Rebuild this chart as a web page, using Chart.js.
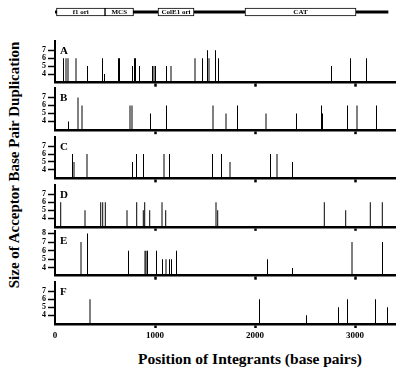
<!DOCTYPE html>
<html>
<head>
<meta charset="utf-8">
<script src="https://cdn.jsdelivr.net/npm/chart.js@4.4.0/dist/chart.umd.min.js"></script>
<style>
  html, body { margin: 0; padding: 0; background: #fff; }
  #fig { position: relative; width: 400px; height: 376px; overflow: hidden; background: #fff; font-family: "Liberation Serif", "DejaVu Serif", serif; }
  #fig canvas { position: absolute; left: 0; }
  .ytitle { position: absolute; left: -136px; top: 156px; width: 300px; height: 18px; line-height: 18px; text-align: center; font-weight: bold; font-size: 15px; transform: rotate(-90deg); white-space: nowrap; }
  .xtitle { position: absolute; left: 100px; top: 350px; width: 300px; height: 18px; line-height: 18px; text-align: center; font-weight: bold; font-size: 15.5px; white-space: nowrap; }
</style>
</head>
<body>
<div id="fig">
  <div class="ytitle">Size of Acceptor Base Pair Duplication</div>
  <div class="xtitle">Position of Integrants (base pairs)</div>
</div>
<script>
// plasmid map
const featureNames = ["f1 ori", "MCS", "ColE1 ori", "CAT"];
const featureStart = [15, 500, 1030, 1900];
const featureEnd = [500, 785, 1390, 3010];
const backbone = [0, 3330];

// integrant positions (bp) and duplication sizes (bp), one pair per panel
const panelNames = ["A", "B", "C", "D", "E", "F"];
const posA = [85, 110, 130, 210, 325, 475, 495, 635, 645, 775, 795, 805, 845, 975, 990, 1005, 1115, 1160, 1400, 1475, 1525, 1540, 1605, 1635, 2765, 2955, 3115];
const sizeA = [6, 6, 6, 6, 5, 6, 4, 6, 6, 5, 6, 6, 5, 5, 5, 5, 5, 5, 6, 6, 7, 6, 7, 6, 5, 6, 6];
const posB = [135, 230, 270, 750, 770, 955, 1115, 1580, 1710, 1825, 2110, 2415, 2665, 2675, 2925, 3020, 3215];
const sizeB = [4, 7, 6, 6, 6, 5, 6, 6, 5, 6, 5, 5, 6, 5, 6, 6, 6];
const posC = [175, 190, 320, 775, 815, 885, 1090, 1145, 1575, 1665, 1750, 2155, 2220, 2375];
const sizeC = [6, 5, 6, 5, 6, 6, 6, 6, 6, 6, 5, 6, 6, 5];
const posD = [57, 300, 457, 477, 503, 720, 817, 883, 897, 947, 1070, 1107, 1610, 1627, 2693, 2907, 3153, 3273];
const sizeD = [6, 5, 6, 6, 6, 5, 6, 5, 6, 5, 6, 5, 6, 5, 6, 5, 6, 6];
const posE = [260, 325, 735, 900, 910, 925, 1015, 1075, 1110, 1145, 1165, 1215, 2125, 2375, 2970, 3275];
const sizeE = [7, 8, 6, 6, 6, 6, 6, 5, 5, 5, 5, 6, 5, 4, 7, 7];
const posF = [350, 2045, 2515, 2835, 2925, 3205, 3325];
const sizeF = [6, 6, 4, 5, 6, 6, 5];

const xTicks = [0, 1000, 2000, 3000];
const yTicks = [4, 5, 6, 7];
const yTicksE = [4, 5, 6, 7, 8];

const X_MAX = 3400;
const PLOT_LEFT = 55;
const PLOT_RIGHT = 395;
const FONT = "Liberation Serif";

const fig = document.getElementById("fig");

function addCanvas(top, h) {
  const c = document.createElement("canvas");
  c.width = 400;
  c.height = h;
  c.style.top = top + "px";
  c.style.width = "400px";
  c.style.height = h + "px";
  fig.appendChild(c);
  return c;
}

// 图谱上的标签
const featureLabels = {
  id: "featureLabels",
  afterDatasetsDraw(chart) {
    const { ctx } = chart;
    ctx.save();
    ctx.font = "bold 7px " + FONT;
    ctx.fillStyle = "#000";
    ctx.textAlign = "center";
    ctx.textBaseline = "middle";
    chart.data.datasets.forEach((ds, i) => {
      if (!ds.label) return;
      const el = chart.getDatasetMeta(i).data[0];
      const p = el.getProps(["x", "base", "y"], true);
      ctx.fillText(ds.label, (p.x + p.base) / 2, p.y + 0.5);
    });
    ctx.restore();
  },
};

// 面板字母
const panelLetter = {
  id: "panelLetter",
  afterDraw(chart, args, opts) {
    const { ctx, chartArea } = chart;
    ctx.save();
    ctx.font = "bold 11px " + FONT;
    ctx.fillStyle = "#000";
    ctx.textBaseline = "middle";
    ctx.fillText(opts.text, chartArea.left + 5, chartArea.top + 10);
    ctx.restore();
  },
};

// map
const mapCanvas = addCanvas(0, 24);
new Chart(mapCanvas, {
  type: "bar",
  data: {
    labels: ["map"],
    datasets: [
      { data: [backbone], backgroundColor: "#000", barThickness: 2.5, grouped: false, order: 2 },
      ...featureNames.map((name, k) => ({
        label: name,
        data: [[featureStart[k], featureEnd[k]]],
        backgroundColor: "#fff",
        borderColor: "#000",
        borderWidth: 1,
        borderSkipped: false,
        barThickness: 8,
        grouped: false,
        order: 1,
      })),
    ],
  },
  options: {
    indexAxis: "y",
    responsive: false,
    animation: false,
    devicePixelRatio: 1,
    layout: { padding: { left: PLOT_LEFT, right: 400 - PLOT_RIGHT, top: 4, bottom: 4 } },
    scales: {
      x: { type: "linear", min: 0, max: X_MAX, offset: false, display: false },
      y: { display: false },
    },
    plugins: { legend: { display: false }, tooltip: { enabled: false } },
  },
  plugins: [featureLabels],
});

// panels
const panelPos = [posA, posB, posC, posD, posE, posF];
const panelSize = [sizeA, sizeB, sizeC, sizeD, sizeE, sizeF];
const baselines = [82.7, 130.2, 178.4, 226.8, 275.7, 324];
const plotHeights = [44.3, 44.3, 44.3, 44.3, 46.8, 44.3];
const yRanges = [[2.9, 8.2], [2.9, 8.2], [2.9, 8.2], [2.9, 8.2], [3.1, 8.3], [2.9, 8.2]];

panelNames.forEach((name, i) => {
  const last = i === panelNames.length - 1;
  const xh = last ? 22 : 8;
  const base = baselines[i];
  const plotTop = base - plotHeights[i];
  const top = Math.floor(plotTop) - 4;
  const h = Math.ceil(base - top) + xh;
  const padTop = plotTop - top;
  const padBottom = h - (base - top) - xh;
  const ticks = name === "E" ? yTicksE : yTicks;
  const [yMin, yMax] = yRanges[i];

  new Chart(addCanvas(top, h), {
    type: "bar",
    data: {
      datasets: [{
        data: panelPos[i].map((x, k) => ({ x, y: panelSize[i][k] })),
        backgroundColor: "#000",
        barThickness: 1,
        inflateAmount: 0,
        base: yMin,
        borderWidth: 0,
      }],
    },
    options: {
      responsive: false,
      animation: false,
      devicePixelRatio: 1,
      layout: { padding: { left: 0, right: 400 - PLOT_RIGHT, top: padTop, bottom: padBottom } },
      scales: {
        x: {
          type: "linear",
          min: 0,
          max: X_MAX,
          offset: false,
          afterBuildTicks: (s) => { s.ticks = xTicks.map((v) => ({ value: v })); },
          afterFit: (s) => { s.height = xh; },
          grid: {
            offset: false,
            drawOnChartArea: false,
            tickLength: 4,
            tickWidth: 2.5,
            tickColor: (c) => (c.tick && c.tick.value === 0 ? "rgba(0,0,0,0)" : "#000"),
          },
          border: { color: "#000", width: 2.5 },
          ticks: {
            display: last,
            autoSkip: false,
            color: "#000",
            padding: 2,
            maxRotation: 0,
            font: { family: FONT, weight: "bold", size: 9 },
            callback: (v) => String(v),
          },
        },
        y: {
          min: yMin,
          max: yMax,
          afterBuildTicks: (s) => { s.ticks = ticks.map((v) => ({ value: v })); },
          afterFit: (s) => { s.width = PLOT_LEFT; },
          grid: { drawOnChartArea: false, tickLength: 7, tickWidth: 1.5, tickColor: "#000" },
          border: { color: "#000", width: 2 },
          ticks: {
            autoSkip: false,
            color: "#000",
            padding: 2,
            font: { family: FONT, weight: "bold", size: 8 },
            callback: (v) => String(v),
          },
        },
      },
      plugins: {
        legend: { display: false },
        tooltip: { enabled: false },
        panelLetter: { text: name },
      },
    },
    plugins: [panelLetter],
  });
});
</script>
</body>
</html>
